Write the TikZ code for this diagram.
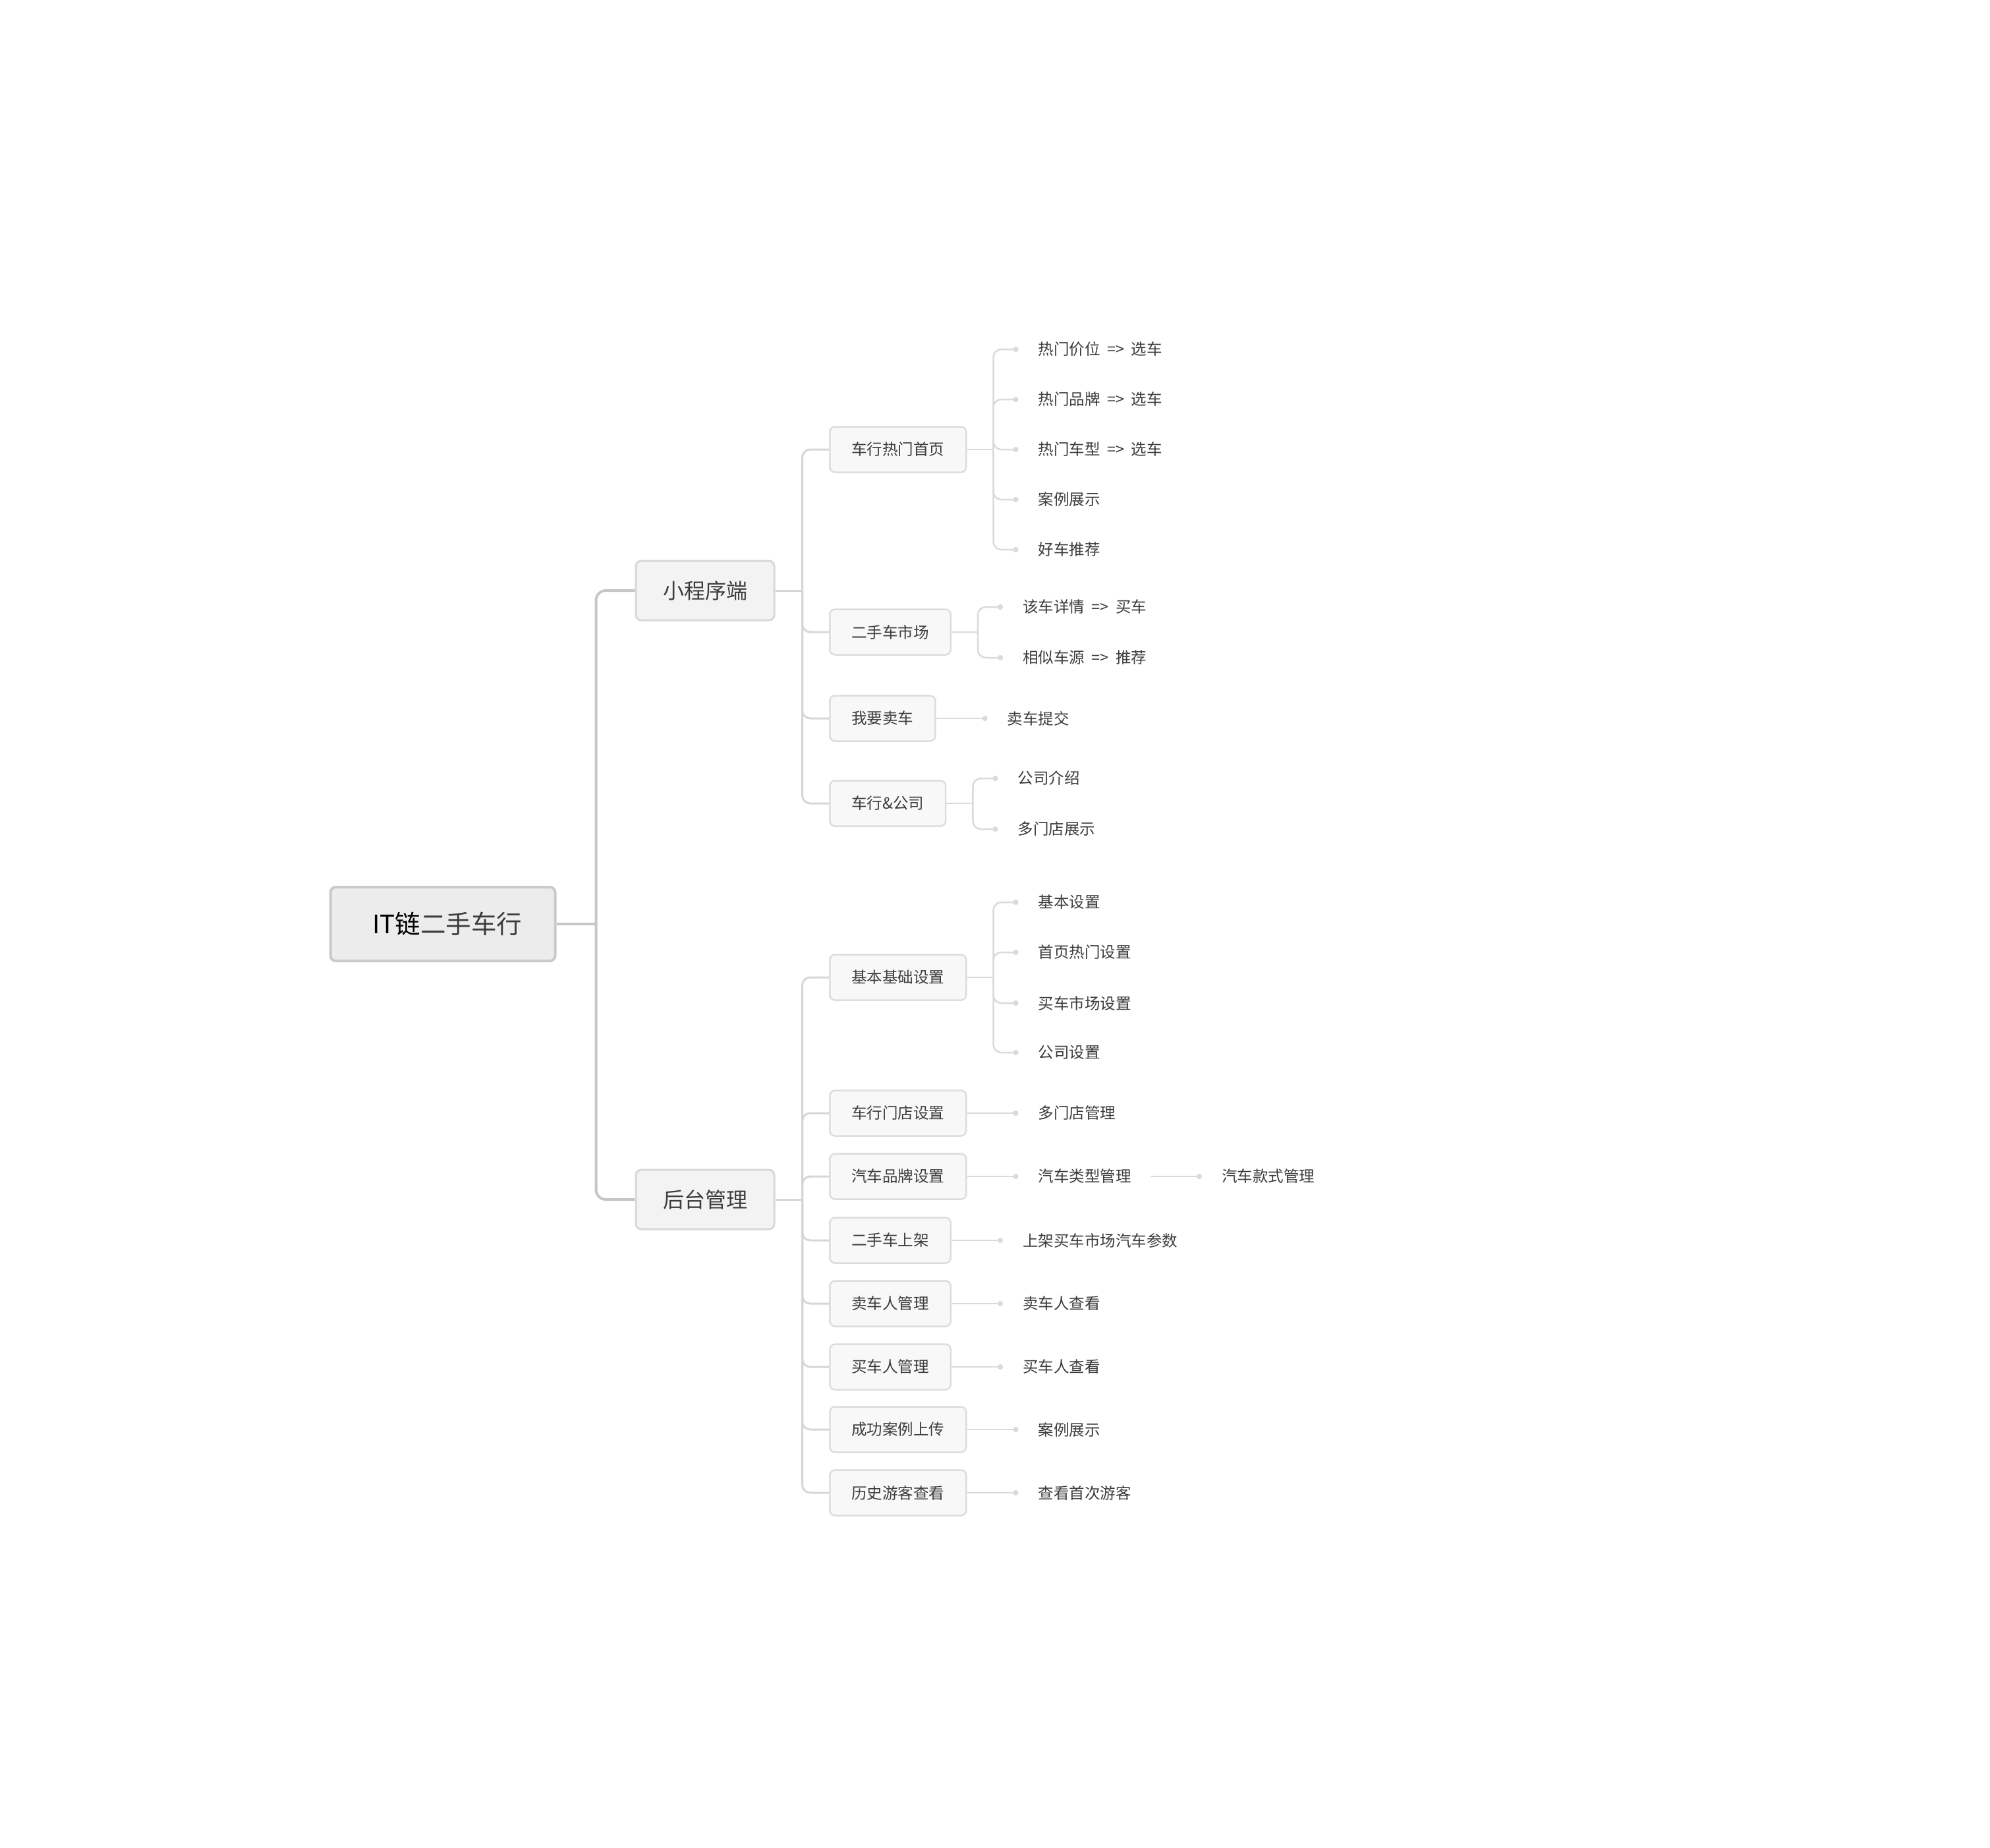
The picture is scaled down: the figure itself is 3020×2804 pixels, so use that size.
\documentclass[tikz,border=0pt]{standalone}
\usepackage{fontspec}
\newfontfamily\cjk{Noto Sans CJK SC}
\usetikzlibrary{arrows.meta,calc}
\definecolor{txt}{HTML}{3C3C3C}
\definecolor{rootfill}{HTML}{ECECEC}
\definecolor{rootline}{HTML}{CACACA}
\definecolor{lafill}{HTML}{F3F3F3}
\definecolor{laline}{HTML}{D8D8D8}
\definecolor{lbfill}{HTML}{F8F8F8}
\definecolor{lbline}{HTML}{DDDDDD}
\definecolor{trunkcol}{HTML}{C6C6C6}
\definecolor{branchcol}{HTML}{D6D6D6}
\definecolor{twigcol}{HTML}{DADADA}
\newcommand\arr{\hspace{0.45em}=>\hspace{0.45em}}
\tikzset{
  rootbox/.style={draw=rootline, line width=4, fill=rootfill, rounded corners=8,
    minimum width=341, minimum height=112, text=txt,
    font=\cjk\fontsize{38.5}{46}\selectfont},
  labox/.style={draw=laline, line width=3, fill=lafill, rounded corners=8,
    minimum width=210, minimum height=90, text=txt,
    font=\cjk\fontsize{32}{38}\selectfont},
  lbbox/.style={draw=lbline, line width=2.5, fill=lbfill, rounded corners=8,
    inner xsep=33, minimum height=69, anchor=west, text=txt,
    font=\cjk\fontsize{23.5}{28}\selectfont},
  leaf/.style={inner xsep=30, inner ysep=4, anchor=west, text=txt,
    font=\cjk\fontsize{23.5}{28}\selectfont},
  trunk/.style={draw=trunkcol, line width=4, rounded corners=15},
  branch/.style={draw=branchcol, line width=3, rounded corners=12},
  twig/.style={draw=twigcol, line width=2.5, rounded corners=12},
  dotend/.style={-{Circle[length=8, fill=twigcol]}},
}
\begin{document}
\begin{tikzpicture}[x=1pt, y=-1pt]
\fill[white] (0,0) rectangle (3020,2804);
\useasboundingbox (0,0) rectangle (3020,2804);

% root and level 1
\node[rootbox] (root) at (672,1402) {\hspace{14pt}{\color{black}IT链}二手车行};
\node[labox] (m) at (1070,896) {小程序端};
\node[labox] (b) at (1070,1820) {后台管理};
\draw[trunk] (root.east) -- ++(60,0) coordinate (rt);
\draw[trunk] (rt) |- (m.west);
\draw[trunk] (rt) |- (b.west);

% level 2 under 小程序端
\node[lbbox] (m1) at (1258,682) {车行热门首页};
\node[lbbox] (m2) at (1258,959) {二手车市场};
\node[lbbox] (m3) at (1258,1090) {我要卖车};
\node[lbbox] (m4) at (1258,1219) {车行\&公司};
\draw[branch] (m.east) -- ++(41,0) coordinate (mt);
\foreach \c in {m1,m2,m3,m4} \draw[branch] (mt) |- (\c.west);

% level 2 under 后台管理
\node[lbbox] (b1) at (1258,1483) {基本基础设置};
\node[lbbox] (b2) at (1258,1689) {车行门店设置};
\node[lbbox] (b3) at (1258,1785) {汽车品牌设置};
\node[lbbox] (b4) at (1258,1882) {二手车上架};
\node[lbbox] (b5) at (1258,1978) {卖车人管理};
\node[lbbox] (b6) at (1258,2074) {买车人管理};
\node[lbbox] (b7) at (1258,2169) {成功案例上传};
\node[lbbox] (b8) at (1258,2265) {历史游客查看};
\draw[branch] (b.east) -- ++(41,0) coordinate (bt);
\foreach \c in {b1,b2,b3,b4,b5,b6,b7,b8} \draw[branch] (bt) |- (\c.west);

% leaves of 车行热门首页
\node[leaf] (m1a) at ($(m1.east)+(78,-152)$) {热门价位\arr 选车};
\node[leaf] (m1b) at ($(m1.east)+(78,-76)$) {热门品牌\arr 选车};
\node[leaf] (m1c) at ($(m1.east)+(78,0)$) {热门车型\arr 选车};
\node[leaf] (m1d) at ($(m1.east)+(78,76)$) {案例展示};
\node[leaf] (m1e) at ($(m1.east)+(78,152)$) {好车推荐};
\draw[twig] (m1.east) -- ++(40,0) coordinate (m1t);
\foreach \c in {m1a,m1b,m1c,m1d,m1e} \draw[twig,dotend] (m1t) |- (\c.west);

% leaves of 二手车市场
\node[leaf] (m2a) at ($(m2.east)+(78,-38)$) {该车详情\arr 买车};
\node[leaf] (m2b) at ($(m2.east)+(78,39)$) {相似车源\arr 推荐};
\draw[twig] (m2.east) -- ++(40,0) coordinate (m2t);
\foreach \c in {m2a,m2b} \draw[twig,dotend] (m2t) |- (\c.west);

% leaf of 我要卖车
\node[leaf] (m3a) at ($(m3.east)+(78,0)$) {卖车提交};
\draw[twig,dotend] (m3.east) -- (m3a.west);

% leaves of 车行&公司
\node[leaf] (m4a) at ($(m4.east)+(78,-38)$) {公司介绍};
\node[leaf] (m4b) at ($(m4.east)+(78,39)$) {多门店展示};
\draw[twig] (m4.east) -- ++(40,0) coordinate (m4t);
\foreach \c in {m4a,m4b} \draw[twig,dotend] (m4t) |- (\c.west);

% leaves of 基本基础设置
\node[leaf] (b1a) at ($(b1.east)+(78,-114)$) {基本设置};
\node[leaf] (b1b) at ($(b1.east)+(78,-38)$) {首页热门设置};
\node[leaf] (b1c) at ($(b1.east)+(78,39)$) {买车市场设置};
\node[leaf] (b1d) at ($(b1.east)+(78,114)$) {公司设置};
\draw[twig] (b1.east) -- ++(40,0) coordinate (b1t);
\foreach \c in {b1a,b1b,b1c,b1d} \draw[twig,dotend] (b1t) |- (\c.west);

% single leaves
\node[leaf] (b2a) at ($(b2.east)+(78,0)$) {多门店管理};
\node[leaf] (b3a) at ($(b3.east)+(78,0)$) {汽车类型管理};
\node[leaf] (b3b) at ($(b3a.east)+(77,0)$) {汽车款式管理};
\node[leaf] (b4a) at ($(b4.east)+(78,0)$) {上架买车市场汽车参数};
\node[leaf] (b5a) at ($(b5.east)+(78,0)$) {卖车人查看};
\node[leaf] (b6a) at ($(b6.east)+(78,0)$) {买车人查看};
\node[leaf] (b7a) at ($(b7.east)+(78,0)$) {案例展示};
\node[leaf] (b8a) at ($(b8.east)+(78,0)$) {查看首次游客};
\draw[twig,dotend] (b2.east) -- (b2a.west);
\draw[twig,dotend] (b3.east) -- (b3a.west);
\draw[twig,dotend] (b3a.east) -- (b3b.west);
\draw[twig,dotend] (b4.east) -- (b4a.west);
\draw[twig,dotend] (b5.east) -- (b5a.west);
\draw[twig,dotend] (b6.east) -- (b6a.west);
\draw[twig,dotend] (b7.east) -- (b7a.west);
\draw[twig,dotend] (b8.east) -- (b8a.west);
\end{tikzpicture}
\end{document}
